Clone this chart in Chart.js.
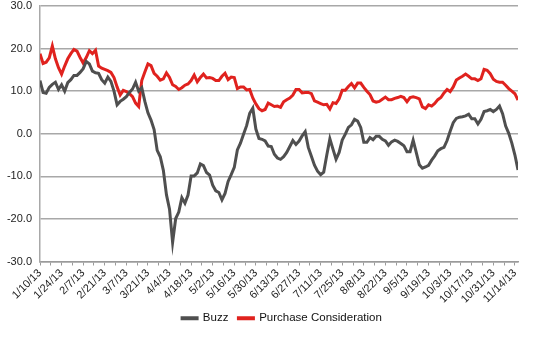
<!DOCTYPE html>
<html>
<head>
<meta charset="utf-8">
<script src="https://cdn.jsdelivr.net/npm/chart.js@4.4.0/dist/chart.umd.min.js"></script>
<style>
  html, body { margin: 0; padding: 0; background: #fff; }
</style>
</head>
<body>
<canvas id="chart" width="550" height="360"></canvas>
<script>
// one value every 2nd day, starting 1/10/13
const dayStep = 2
const seriesNames = ['Buzz', 'Purchase Consideration']

const buzz = [
  12.5, 9.7, 9.5, 10.9, 11.6, 12.1, 10.4, 11.5, 10.0, 12.0,
  12.7, 13.7, 13.7, 14.4, 15.3, 17.0, 16.4, 14.7, 14.3, 14.2,
  12.7, 11.9, 13.3, 12.3, 10.0, 6.8, 7.6, 8.1, 8.7, 9.7,
  10.5, 12.1, 10.0, 10.8, 7.6, 4.9, 3.2, 1.0, -3.9, -5.4,
  -8.6, -14.3, -17.7, -25.5, -19.9, -18.4, -15.0, -16.3, -14.4, -9.9,
  -9.9, -9.2, -7.1, -7.5, -9.1, -9.7, -12.1, -13.4, -13.8, -15.5,
  -14.0, -11.2, -9.6, -7.9, -3.8, -2.2, -0.1, 1.9, 4.8, 6.0,
  1.1, -1.1, -1.3, -1.7, -2.9, -3.0, -4.8, -5.7, -6.0, -5.4,
  -4.4, -3.0, -1.6, -2.5, -1.7, -0.5, 0.5, -3.2, -5.3, -7.4,
  -8.8, -9.6, -9.0, -5.0, -1.2, -3.6, -6.0, -4.4, -1.5, -0.1,
  1.5, 2.1, 3.4, 3.0, 1.5, -2.0, -2.0, -0.9, -1.4, -0.6,
  -0.6, -1.3, -1.7, -2.7, -1.9, -1.5, -1.8, -2.3, -2.8, -4.2,
  -4.2, -1.5, -4.4, -7.3, -8.1, -7.8, -7.4, -6.2, -5.2, -4.0,
  -3.5, -3.2, -1.6, 0.6, 2.6, 3.6, 3.9, 4.0, 4.2, 4.6,
  3.5, 3.5, 2.3, 3.4, 5.2, 5.4, 5.7, 5.2, 5.7, 6.5,
  4.7, 1.8, 0.1, -2.2, -5.0, -8.5
]

const purchase = [
  18.8, 16.5, 16.8, 17.8, 20.6, 17.6, 15.5, 14.0, 15.9, 17.6,
  18.8, 19.8, 19.4, 17.9, 16.6, 17.9, 19.5, 18.8, 19.6, 15.9,
  15.4, 15.1, 14.8, 14.4, 13.2, 11.0, 9.1, 10.2, 9.9, 9.4,
  8.7, 7.2, 6.4, 12.5, 14.5, 16.4, 16.0, 14.2, 13.5, 12.6,
  12.9, 14.3, 13.2, 11.5, 11.1, 10.4, 10.8, 11.4, 11.7, 12.5,
  13.8, 12.2, 13.2, 14.0, 13.1, 13.2, 13.0, 12.5, 12.5, 13.5,
  14.2, 12.7, 13.3, 13.2, 10.6, 11.0, 11.0, 10.3, 10.4, 8.4,
  7.0, 5.9, 5.4, 5.7, 7.2, 6.8, 6.4, 6.5, 6.2, 7.5,
  8.0, 8.4, 9.1, 10.4, 10.4, 9.6, 9.7, 9.7, 9.4, 7.7,
  7.4, 7.1, 6.8, 6.9, 5.8, 7.3, 7.1, 8.2, 10.2, 10.2,
  11.1, 11.8, 10.8, 11.9, 11.9, 10.9, 10.0, 9.2, 7.7, 7.4,
  7.6, 8.1, 8.6, 8.0, 8.0, 8.3, 8.5, 8.8, 8.5, 7.5,
  8.5, 8.7, 8.5, 8.2, 6.3, 5.9, 6.8, 6.5, 7.1, 8.0,
  8.5, 9.6, 10.4, 9.9, 11.0, 12.6, 13.1, 13.5, 14.0, 13.5,
  12.9, 12.9, 12.5, 12.9, 15.1, 14.9, 14.1, 12.8, 12.3, 12.1,
  12.1, 11.4, 10.6, 10.0, 9.4, 7.9
]

// a label every 14 days, a tick mark every 7
const tickLabels = [
  '1/10/13', '1/24/13', '2/7/13', '2/21/13', '3/7/13', '3/21/13', '4/4/13',
  '4/18/13', '5/2/13', '5/16/13', '5/30/13', '6/13/13', '6/27/13', '7/11/13',
  '7/25/13', '8/8/13', '8/22/13', '9/5/13', '9/19/13', '10/3/13', '10/17/13',
  '10/31/13', '11/14/13'
]

const toPoints = (vals) => vals.map((v, i) => ({ x: i * dayStep, y: v }))
const lastDay = (buzz.length - 1) * dayStep

const font = { family: '"Liberation Sans", Arial, sans-serif', size: 11 }

// legend sits a bit right of the canvas centre in the original
const legendShift = {
  id: 'legendShift',
  afterLayout: (chart) => { chart.legend.left += 14 }
}

new Chart(document.getElementById('chart'), {
  type: 'line',
  data: {
    datasets: [{
      label: seriesNames[0],
      data: toPoints(buzz),
      borderColor: '#4f4f4f',
      backgroundColor: '#4f4f4f',
      borderWidth: 3,
      pointRadius: 0,
      tension: 0
    }, {
      label: seriesNames[1],
      data: toPoints(purchase),
      borderColor: '#e0221e',
      backgroundColor: '#e0221e',
      borderWidth: 3,
      pointRadius: 0,
      tension: 0
    }]
  },
  plugins: [legendShift],
  options: {
    responsive: false,
    animation: false,
    devicePixelRatio: 1,
    layout: { padding: { top: 0, left: 0, right: 0, bottom: 26 } },
    plugins: {
      tooltip: { enabled: false },
      legend: {
        position: 'bottom',
        labels: {
          boxWidth: 15,
          boxHeight: 1,
          padding: 10,
          color: '#111',
          font: { family: font.family, size: 11.5 }
        }
      }
    },
    scales: {
      x: {
        type: 'linear',
        min: 0,
        max: lastDay,
        afterBuildTicks: (scale) => {
          const t = []
          for (let d = 0; d <= lastDay; d += 7) t.push({ value: d })
          scale.ticks = t
        },
        afterFit: (scale) => { scale.height = 41 },
        ticks: {
          autoSkip: false,
          minRotation: 45,
          maxRotation: 45,
          padding: 1,
          color: '#222',
          font: font,
          callback: (v) => (v % 14 === 0 ? tickLabels[v / 14] : '')
        },
        grid: {
          drawOnChartArea: false,
          drawTicks: true,
          tickLength: 4,
          color: '#9a9a9a'
        },
        border: { color: '#9a9a9a', width: 1.5 }
      },
      y: {
        min: -30,
        max: 30,
        afterFit: (scale) => {
          scale.width = 40
          scale.paddingTop = 6
          scale.paddingBottom = 0
        },
        ticks: {
          stepSize: 10,
          padding: 8,
          color: '#222',
          font: font,
          callback: (v) => v.toFixed(1)
        },
        grid: {
          color: '#a8a8a8',
          lineWidth: 1.5,
          drawTicks: false
        },
        border: { color: '#a8a8a8', width: 1.5 }
      },
      // empty box on the right, keeps the plot clear of the edge
      yRight: {
        position: 'right',
        afterFit: (scale) => { scale.width = 32 },
        ticks: { display: false },
        grid: { display: false },
        border: { display: false }
      }
    }
  }
})
</script>
</body>
</html>
